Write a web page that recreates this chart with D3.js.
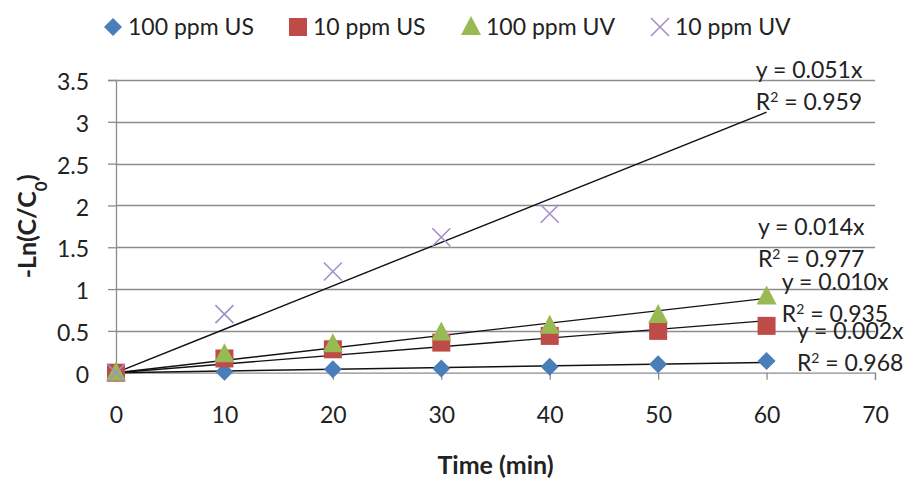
<!DOCTYPE html>
<html>
<head>
<meta charset="utf-8">
<script src="https://cdn.jsdelivr.net/npm/d3@7"></script>
<style>
  body { margin: 0; background: #fff; }
  text { font-family: Lato, "Liberation Sans", sans-serif; fill: #222; }
</style>
</head>
<body>
<script>
// time points (min)
var times = [0, 10, 20, 30, 40, 50, 60];
var timesUV10 = [0, 10, 20, 30, 40];

// -Ln(C/C0) per series
var us100 = [0, 0.01, 0.04, 0.05, 0.07, 0.10, 0.14];
var us10 = [0, 0.17, 0.28, 0.36, 0.44, 0.50, 0.56];
var uv100 = [0, 0.22, 0.34, 0.48, 0.56, 0.69, 0.91];
var uv10 = [0, 0.70, 1.21, 1.62, 1.90];

var seriesNames = ["100 ppm US", "10 ppm US", "100 ppm UV", "10 ppm UV"];
var eqLabels = ["y = 0.002x", "y = 0.010x", "y = 0.014x", "y = 0.051x"];
var r2Labels = ["0.968", "0.935", "0.977", "0.959"];

var xTicks = [0, 10, 20, 30, 40, 50, 60, 70];
var yTicks = [0, 0.5, 1, 1.5, 2, 2.5, 3, 3.5];

var width = 907, height = 479;
var margin = { top: 80, right: 32, bottom: 107, left: 116 };
var fontSize = "23px";

var svg = d3.select("body").append("svg")
    .attr("width", width)
    .attr("height", height);

var x = d3.scaleLinear().domain([0, 70]).range([margin.left, width - margin.right]);
var y = d3.scaleLinear().domain([0, 3.5]).range([height - margin.bottom + 0.7, margin.top]);

var gridColor = "#8c8c8c";

// gridlines
svg.append("g").selectAll("line")
    .data(yTicks.slice(1))
    .enter().append("line")
    .attr("x1", x(0)).attr("x2", x(70))
    .attr("y1", function (d) { return Math.round(y(d)) + 0.5; })
    .attr("y2", function (d) { return Math.round(y(d)) + 0.5; })
    .attr("stroke", gridColor).attr("stroke-width", 1.3);

// y axis
var yAxis = svg.append("g")
    .attr("transform", "translate(" + x(0) + ",0)")
    .call(d3.axisLeft(y).tickValues(yTicks).tickSize(8).tickPadding(19).tickFormat(d3.format("")));

// x axis
var xAxis = svg.append("g")
    .attr("transform", "translate(0," + y(0) + ")")
    .call(d3.axisBottom(x).tickValues(xTicks).tickSize(7).tickPadding(27));

[xAxis, yAxis].forEach(function (a) {
    a.select(".domain").attr("stroke", gridColor).attr("stroke-width", 1.3);
    a.selectAll(".tick line").attr("stroke", gridColor).attr("stroke-width", 1.3);
    a.selectAll(".tick text").style("font-size", fontSize).style("fill", "#222")
        .style("font-family", "Lato, sans-serif");
});
yAxis.selectAll(".tick text").attr("dy", "0.42em");

// axis titles
svg.append("text")
    .attr("x", x(35)).attr("y", 474)
    .attr("text-anchor", "middle")
    .style("font-size", "25px").style("font-weight", "bold")
    .text("Time (min)");

var yt = svg.append("text")
    .attr("transform", "translate(36," + y(1.75) + ") rotate(-90)")
    .attr("text-anchor", "middle")
    .style("font-size", "25px").style("font-weight", "bold");
yt.append("tspan").text("-Ln(C/C");
yt.append("tspan").attr("baseline-shift", "sub").style("font-size", "17px").text("0");
yt.append("tspan").text(")");

// trendlines (least squares through origin)
var allSeries = [
    { t: times, v: us100 },
    { t: times, v: us10 },
    { t: times, v: uv100 },
    { t: timesUV10, v: uv10 }
];
allSeries.forEach(function (s) {
    var sxy = d3.sum(s.t, function (t, i) { return t * s.v[i]; });
    var sxx = d3.sum(s.t, function (t) { return t * t; });
    var k = sxy / sxx;
    svg.append("line")
        .attr("x1", x(0)).attr("y1", y(0))
        .attr("x2", x(60)).attr("y2", y(60 * k))
        .attr("stroke", "#111").attr("stroke-width", 1.4);
});

// markers
var colors = ["#4a7ebb", "#be4b48", "#98b954", "#a38fc9"];

function marker(g, type, cx, cy, col) {
    if (type === 0) {
        g.append("path").attr("d", "M" + cx + "," + (cy - 9) + "L" + (cx + 9) + "," + cy +
            "L" + cx + "," + (cy + 9) + "L" + (cx - 9) + "," + cy + "Z").attr("fill", col);
    } else if (type === 1) {
        g.append("rect").attr("x", cx - 9).attr("y", cy - 9).attr("width", 18).attr("height", 18).attr("fill", col);
    } else if (type === 2) {
        g.append("path").attr("d", "M" + cx + "," + (cy - 11) + "L" + (cx + 10) + "," + (cy + 8) +
            "L" + (cx - 10) + "," + (cy + 8) + "Z").attr("fill", col);
    } else {
        g.append("path").attr("d", "M" + (cx - 9) + "," + (cy - 9) + "L" + (cx + 9) + "," + (cy + 9) +
            "M" + (cx + 9) + "," + (cy - 9) + "L" + (cx - 9) + "," + (cy + 9))
            .attr("stroke", col).attr("stroke-width", 1.6).attr("fill", "none");
    }
}

allSeries.forEach(function (s, si) {
    var g = svg.append("g");
    s.t.forEach(function (t, i) {
        marker(g, si, x(t), y(s.v[i]), colors[si]);
    });
});

// trendline labels, anchored in data units
var labelPos = [[62.8, 0.50], [61.4, 1.08], [59.2, 1.74], [59.0, 3.62]];
labelPos.forEach(function (p, i) {
    var lx = x(p[0]), ly = y(p[1]);
    svg.append("text").attr("x", lx).attr("y", ly + 8)
        .style("font-size", fontSize).text(eqLabels[i]);
    var r = svg.append("text").attr("x", lx).attr("y", ly + 40)
        .style("font-size", fontSize);
    r.append("tspan").text("R");
    r.append("tspan").attr("baseline-shift", "super").style("font-size", "14px").text("2");
    r.append("tspan").text(" = " + r2Labels[i]);
});

// legend
var legX = [113, 298, 471, 660];
var leg = svg.append("g");
seriesNames.forEach(function (n, i) {
    marker(leg, i, legX[i], 27, colors[i]);
    leg.append("text").attr("x", legX[i] + 15).attr("y", 35)
        .style("font-size", fontSize).text(n);
});
</script>
</body>
</html>
